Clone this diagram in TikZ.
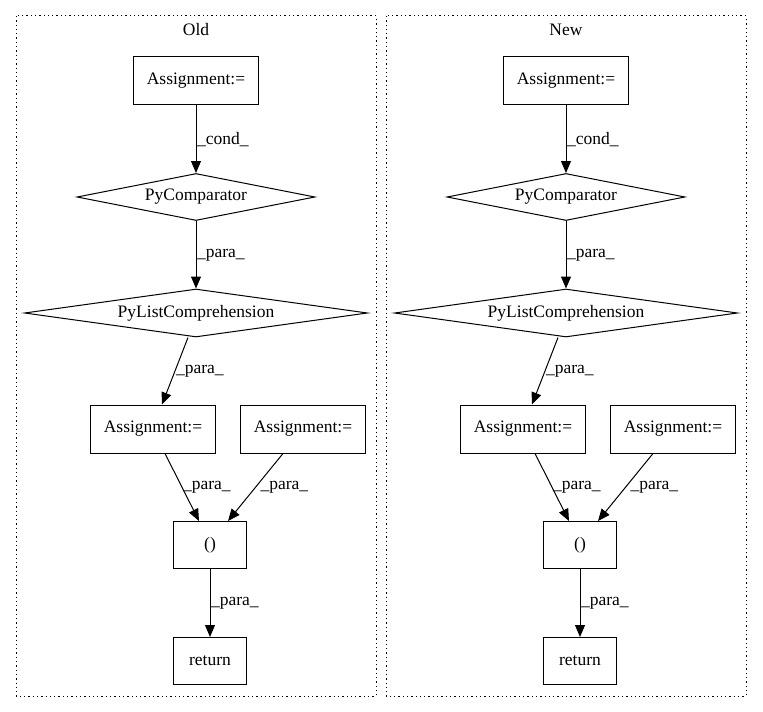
\documentclass[tikz,border=0pt]{standalone}
\usepackage{fontspec}
\setmainfont{Liberation Serif}
\usetikzlibrary{shapes.geometric,arrows.meta}
\tikzset{
 box/.style={draw, line width=1bp, rectangle, inner sep=0pt, minimum width=125bp, minimum height=48bp},
 smallbox/.style={box, minimum width=73bp, minimum height=47bp},
 dia/.style={draw, line width=1bp, diamond, aspect=7, inner sep=0pt},
 edge/.style={line width=1bp, -{Triangle[length=12bp,width=10bp]}},
 lbl/.style={anchor=west, inner sep=0.5bp},
 cluster/.style={line width=1bp, dash pattern=on 1.3bp off 3bp},
}
\newcommand\mypanel[3]{%
\begin{scope}[shift={(#2,0)}]
\draw[cluster] (16,16) rectangle (376,696);
\node (#1t) at (196,30) {#3};
\node[box] (#1a1) at (196,81) {Assignment:=};
\node[dia, minimum width=238bp, minimum height=47bp] (#1pc) at (196,197) {PyComparator};
\node[dia, minimum width=343bp, minimum height=48bp] (#1lc) at (196,313) {PyListComprehension};
\node[box] (#1a2) at (153,429) {Assignment:=};
\node[box] (#1a3) at (303,429) {Assignment:=};
\node[smallbox] (#1p) at (210,545) {()};
\node[smallbox] (#1r) at (210,661) {return};
\draw[edge] (#1a1) -- node[lbl]{\_cond\_} (#1pc);
\draw[edge] (#1pc) -- node[lbl]{\_para\_} (#1lc);
\draw[edge] ([xshift=-8bp]#1lc.south) -- node[lbl]{\_para\_} ([xshift=9bp]#1a2.north);
\draw[edge] ([xshift=12bp]#1a2.south) -- node[lbl]{\_para\_} ([xshift=-11bp]#1p.north);
\draw[edge] ([xshift=-20bp]#1a3.south) -- node[lbl, xshift=4bp]{\_para\_} ([xshift=18bp]#1p.north);
\draw[edge] (#1p) -- node[lbl]{\_para\_} (#1r);
\end{scope}}
\begin{document}
\begin{tikzpicture}[x=1bp, y=-1bp, font=\fontsize{17.5bp}{21bp}\selectfont]
\useasboundingbox (0,0) rectangle (763,712);
\mypanel{o}{0}{Old}
\mypanel{n}{370}{New}
\end{tikzpicture}
\end{document}
